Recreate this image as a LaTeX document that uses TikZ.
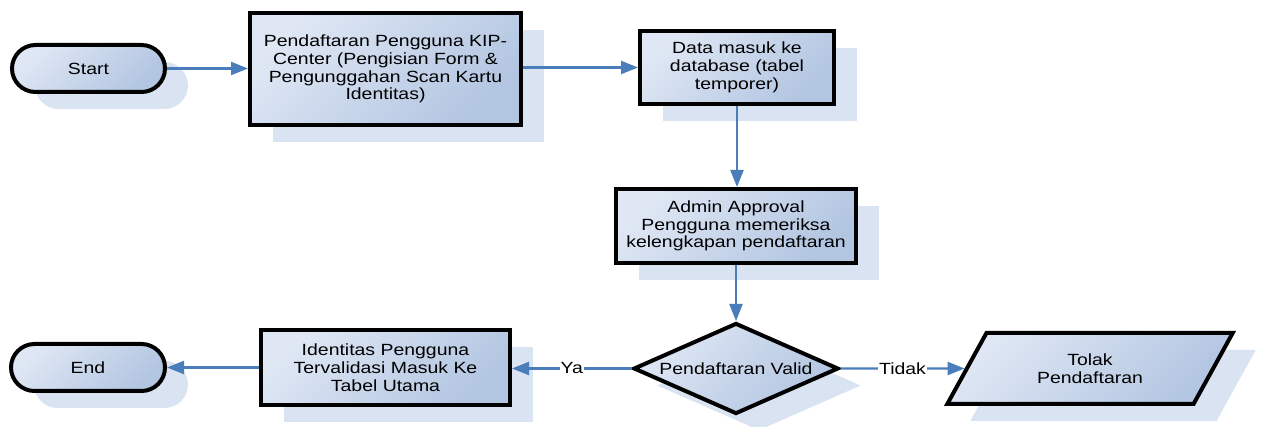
\documentclass[tikz,border=0pt]{standalone}
\usepackage{fontspec}
\setmainfont[FakeStretch=1.2]{Liberation Sans}
\usetikzlibrary{shapes.geometric,shapes.misc,arrows.meta,shadows}
\definecolor{gA}{HTML}{DFE7F4}
\definecolor{gB}{HTML}{B2C5E1}
\definecolor{shc}{HTML}{DAE3F1}
\definecolor{arr}{HTML}{4A7EBB}
\begin{document}
\begin{tikzpicture}[x=1pt,y=-1pt,
  base/.style={draw=black, line width=4pt, top color=gA, bottom color=gB, shading angle=45,
    drop shadow={shadow xshift=23pt, shadow yshift=-17pt, fill=shc, opacity=1},
    font=\fontsize{16.2}{17.8}\selectfont, align=center, inner sep=0pt, text=black},
  proc/.style={base, rectangle},
  term/.style={base, rounded rectangle},
  decide/.style={base, diamond, aspect=2.3},
  io/.style={base, trapezium, trapezium left angle=56, trapezium right angle=124, trapezium stretches=true},
  flow/.style={draw=arr, line width=2.2pt, -{Triangle[length=17pt,width=13pt]}},
  lbl/.style={fill=white, inner sep=1pt, font=\fontsize{16.2}{17.8}\selectfont, text=black}
]
\useasboundingbox (0,0) rectangle (1262,427);

\node[term, minimum width=153pt, minimum height=47pt] (start) at (88.5,68.5) {Start};
\node[proc, minimum width=271pt, minimum height=112pt] (reg) at (385.5,69) {Pendaftaran Pengguna KIP-\\Center (Pengisian Form \&\\Pengunggahan Scan Kartu\\Identitas)};
\node[proc, minimum width=194pt, minimum height=73pt] (db) at (737,67.5) {Data masuk ke\\database (tabel\\temporer)};
\node[proc, minimum width=240pt, minimum height=74pt] (adm) at (736,226) {Admin Approval\\Pengguna memeriksa\\kelengkapan pendaftaran};
\node[decide, minimum width=205pt, minimum height=91pt] (dia) at (736,368.5) {Pendaftaran Valid};
\node[proc, minimum width=249pt, minimum height=75pt] (ok) at (385.5,367.5) {Identitas Pengguna\\Tervalidasi Masuk Ke\\Tabel Utama};
\node[term, minimum width=154pt, minimum height=47pt] (end) at (88,367.5) {End};
\node[io, minimum width=286pt, minimum height=71pt] (rej) at (1090,368.5) {Tolak\\Pendaftaran};

\draw[flow] (start.east) -- (start.east -| reg.west);
\draw[flow] (reg.east |- db.west) -- (db.west);
\draw[flow] (db.south) -- (db.south |- adm.north);
\draw[flow] (adm.south) -- (dia.north);
\draw[flow] (dia.west) -- node[lbl] {Ya} (dia.west -| ok.east);
\draw[flow] (dia.east) -- node[lbl] {Tidak} (rej.west);
\draw[flow] (ok.west) -- (ok.west -| end.east);
\end{tikzpicture}
\end{document}
